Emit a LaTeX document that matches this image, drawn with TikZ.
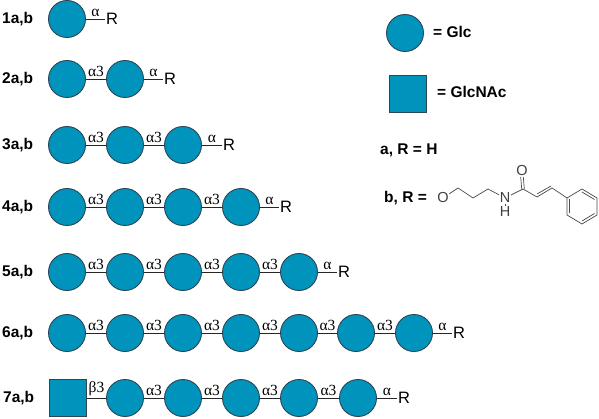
\documentclass[tikz,border=0pt]{standalone}
\usepackage{fontspec}
\usepackage{xcolor}
\setmainfont{Liberation Sans}
\newfontfamily\lnkfont{Liberation Serif}
\usetikzlibrary{positioning}
\definecolor{sugarblue}{RGB}{0,147,188}
\definecolor{sugaredge}{RGB}{45,70,85}

\begin{document}
\begin{tikzpicture}[
    x=1pt, y=-1pt,
    glc/.style={circle, draw=sugaredge, line width=0.9pt, fill=sugarblue, minimum size=37pt, inner sep=0pt},
    glcnac/.style={rectangle, draw=sugaredge, line width=0.9pt, fill=sugarblue, minimum size=37pt, inner sep=0pt},
    lbl/.style={font=\fontsize{15.5}{17}\selectfont\bfseries, inner sep=0pt},
    rgrp/.style={font=\fontsize{16.5}{18}\selectfont, inner sep=1pt},
    lnk/.style={above=1.5pt, font=\fontsize{15.5}{17}\selectfont\lnkfont, inner sep=0pt},
    bond/.style={draw=black!85, line width=0.9pt},
    atom/.style={font=\fontsize{14.5}{16}\selectfont, text=black!75, inner sep=0.5pt},
    chem/.style={draw=black!70, line width=0.7pt}
  ]
    \useasboundingbox (0,0) rectangle (599,419);

    % Legend
    \node[glc] (legglc) at (405,33) {};
    \node[lbl, anchor=west] (legglctxt) at (433,32) {= Glc};
    \node[glcnac] (legnac) at (408,94) {};
    \node[lbl, anchor=west] (legnactxt) at (437,92) {= GlcNAc};
    \node[lbl, anchor=west] (rowa) at (380,150) {a, R = H};
    \node[lbl, anchor=west] (rowb) at (384,198) {b, R =};

    % 1a,b
    \node[lbl, anchor=west] (l1) at (2,19) {1a,b};
    \node[glc] (c11) at (67,19) {};
    \node[rgrp] (r1) at (112,19) {R};
    \draw[bond] (c11) -- node[lnk] {α} (r1);

    % 2a,b
    \node[lbl, anchor=west] (l2) at (2,79) {2a,b};
    \node[glc] (c21) at (67,79) {};
    \node[glc] (c22) at (125,79) {};
    \node[rgrp] (r2) at (170,79) {R};
    \draw[bond] (c21) -- node[lnk] {α3} (c22);
    \draw[bond] (c22) -- node[lnk] {α} (r2);

    % 3a,b
    \node[lbl, anchor=west] (l3) at (2,145) {3a,b};
    \node[glc] (c31) at (67,145) {};
    \node[glc] (c32) at (125,145) {};
    \node[glc] (c33) at (183,145) {};
    \node[rgrp] (r3) at (229,145) {R};
    \draw[bond] (c31) -- node[lnk] {α3} (c32);
    \draw[bond] (c32) -- node[lnk] {α3} (c33);
    \draw[bond] (c33) -- node[lnk] {α} (r3);

    % 4a,b
    \node[lbl, anchor=west] (l4) at (2,207) {4a,b};
    \node[glc] (c41) at (67,207) {};
    \node[glc] (c42) at (125,207) {};
    \node[glc] (c43) at (183,207) {};
    \node[glc] (c44) at (241,207) {};
    \node[rgrp] (r4) at (286,207) {R};
    \draw[bond] (c41) -- node[lnk] {α3} (c42);
    \draw[bond] (c42) -- node[lnk] {α3} (c43);
    \draw[bond] (c43) -- node[lnk] {α3} (c44);
    \draw[bond] (c44) -- node[lnk] {α} (r4);

    % 5a,b
    \node[lbl, anchor=west] (l5) at (2,272) {5a,b};
    \node[glc] (c51) at (67,272) {};
    \node[glc] (c52) at (125,272) {};
    \node[glc] (c53) at (183,272) {};
    \node[glc] (c54) at (241,272) {};
    \node[glc] (c55) at (299,272) {};
    \node[rgrp] (r5) at (344,272) {R};
    \draw[bond] (c51) -- node[lnk] {α3} (c52);
    \draw[bond] (c52) -- node[lnk] {α3} (c53);
    \draw[bond] (c53) -- node[lnk] {α3} (c54);
    \draw[bond] (c54) -- node[lnk] {α3} (c55);
    \draw[bond] (c55) -- node[lnk] {α} (r5);

    % 6a,b
    \node[lbl, anchor=west] (l6) at (2,333) {6a,b};
    \node[glc] (c61) at (67,333) {};
    \node[glc] (c62) at (125,333) {};
    \node[glc] (c63) at (183,333) {};
    \node[glc] (c64) at (241,333) {};
    \node[glc] (c65) at (299,333) {};
    \node[glc] (c66) at (356,333) {};
    \node[glc] (c67) at (414,333) {};
    \node[rgrp] (r6) at (459,333) {R};
    \draw[bond] (c61) -- node[lnk] {α3} (c62);
    \draw[bond] (c62) -- node[lnk] {α3} (c63);
    \draw[bond] (c63) -- node[lnk] {α3} (c64);
    \draw[bond] (c64) -- node[lnk] {α3} (c65);
    \draw[bond] (c65) -- node[lnk] {α3} (c66);
    \draw[bond] (c66) -- node[lnk] {α3} (c67);
    \draw[bond] (c67) -- node[lnk] {α} (r6);

    % 7a,b
    \node[lbl, anchor=west] (l7) at (3,398) {7a,b};
    \node[glcnac] (c71) at (68,398) {};
    \node[glc] (c72) at (125,398) {};
    \node[glc] (c73) at (183,398) {};
    \node[glc] (c74) at (241,398) {};
    \node[glc] (c75) at (299,398) {};
    \node[glc] (c76) at (358,398) {};
    \node[rgrp] (r7) at (404,398) {R};
    \draw[bond] (c71) -- node[lnk] {β3} (c72);
    \draw[bond] (c72) -- node[lnk] {α3} (c73);
    \draw[bond] (c73) -- node[lnk] {α3} (c74);
    \draw[bond] (c74) -- node[lnk] {α3} (c75);
    \draw[bond] (c75) -- node[lnk] {α3} (c76);
    \draw[bond] (c76) -- node[lnk] {α} (r7);

    % R group b
    \node[atom] (oa) at (443,198) {O};
    \node[atom] (na) at (505,198) {N};
    \node[atom] (ha) at (505,212) {H};
    \node[atom] (ob) at (522,171) {O};
    \coordinate (p1) at (458,188);
    \coordinate (p2) at (473,198);
    \coordinate (p3) at (488,189);
    \coordinate (p4) at (523,189);
    \coordinate (p5) at (537,197);
    \coordinate (p6) at (552,188);
    \coordinate (q1) at (567,198);
    \coordinate (q2) at (582,189);
    \coordinate (q3) at (597,198);
    \coordinate (q4) at (597,215);
    \coordinate (q5) at (582,224);
    \coordinate (q6) at (567,215);
    \draw[chem] (oa) -- (p1) -- (p2) -- (p3) -- (na) -- (p4) -- (p5) -- (p6) -- (q1);
    \draw[chem] (na) -- (ha);
    \draw[chem] ([xshift=-1.3pt]p4) -- ([xshift=-1.3pt]ob.south);
    \draw[chem] ([xshift=1.3pt]p4) -- ([xshift=1.3pt]ob.south);
    \draw[chem] ([yshift=3pt]p5) -- ([xshift=-1pt,yshift=2pt]p6);
    \draw[chem] (q1) -- (q2) -- (q3) -- (q4) -- (q5) -- (q6) -- cycle;
    \draw[chem] ([xshift=2.5pt,yshift=1.5pt]q6) -- ([xshift=2.5pt,yshift=-1.5pt]q1);
    \draw[chem] ([yshift=-3pt]q2) -- ([xshift=-2.5pt,yshift=-1.5pt]q3);
    \draw[chem] ([xshift=-2.5pt,yshift=1.5pt]q4) -- ([yshift=3pt]q5);
\end{tikzpicture}
\end{document}
